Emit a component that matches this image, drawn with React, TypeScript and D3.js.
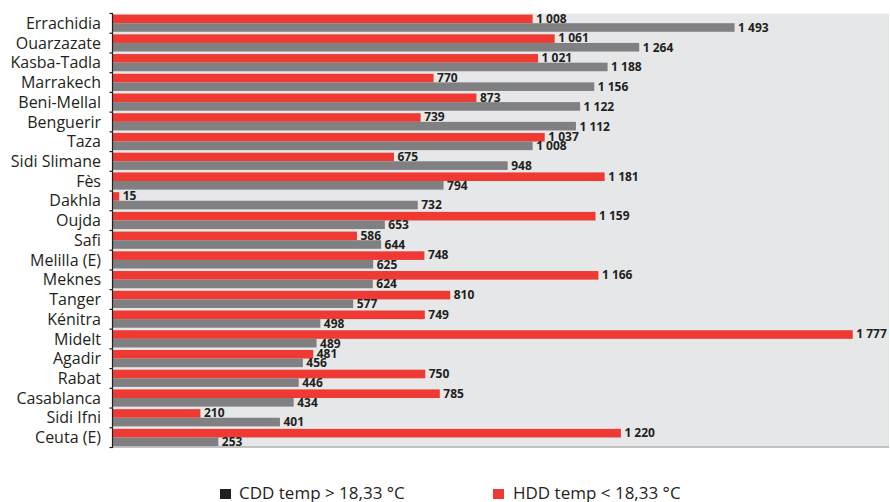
import React from "react";
import * as d3 from "d3";

const categories = [
  "Errachidia", "Ouarzazate", "Kasba-Tadla", "Marrakech", "Beni-Mellal", "Benguerir",
  "Taza", "Sidi Slimane", "Fès", "Dakhla", "Oujda", "Safi", "Melilla (E)", "Meknes",
  "Tanger", "Kénitra", "Midelt", "Agadir", "Rabat", "Casablanca", "Sidi Ifni", "Ceuta (E)",
];
const hddValues = [1008, 1061, 1021, 770, 873, 739, 1037, 675, 1181, 15, 1159, 586, 748, 1166, 810, 749, 1777, 481, 750, 785, 210, 1220];
const cddValues = [1493, 1264, 1188, 1156, 1122, 1112, 1008, 948, 794, 732, 653, 644, 625, 624, 577, 498, 489, 456, 446, 434, 401, 253];
const legendLabels = ["CDD temp > 18,33 °C", "HDD temp < 18,33 °C"];

const W = 890, H = 502;
const X0 = 113, X1 = 889, Y0 = 13.5, Y1 = 447.5;
const RED = "#ee3a33";
const GREY = "#808083";
const TEXT = "#231f20";
const FONT = "'Open Sans', 'Noto Sans', sans-serif";

const fmt = (v: number) => d3.format(",")(v).replace(/,/g, " ");

export default function App() {
  const x = d3.scaleLinear().domain([0, 1864]).range([X0, X1]);
  const y = d3.scaleBand<string>().domain(categories).range([Y0, Y1]).padding(0);
  const bw = y.bandwidth();
  const barH = 8.6;
  const off = 1.1;

  return (
    <svg width={W} height={H} style={{ position: "absolute", left: 0, top: 0, background: "#fff" }}>
      <rect x={X0} y={Y0} width={X1 - X0} height={Y1 - Y0} fill="#e6e7e8" />
      <line x1={X0} x2={X1} y1={Y1 - 0.5} y2={Y1 - 0.5} stroke="#b3b3b5" strokeWidth={1.5} />
      {categories.map((c, i) => {
        const yb = y(c)!;
        const redEnd = x(hddValues[i]);
        const greyEnd = x(cddValues[i]);
        return (
          <g key={c}>
            <rect x={X0} y={yb + off} width={redEnd - X0} height={barH} fill={RED} />
            <rect x={X0} y={yb + off + barH} width={greyEnd - X0} height={barH} fill={GREY} />
            <text x={redEnd + 3.5} y={yb + off + barH / 2 + 3.8} fontFamily={FONT} fontWeight={700} fontSize={12} fill={TEXT}>
              {fmt(hddValues[i])}
            </text>
            <text x={greyEnd + 3.5} y={yb + off + barH * 1.5 + 4.4} fontFamily={FONT} fontWeight={700} fontSize={12} fill={TEXT}>
              {fmt(cddValues[i])}
            </text>
            <text x={101} y={yb + bw / 2 + 5.5} textAnchor="end" fontFamily={FONT} fontSize={16} fill={TEXT}>
              {c}
            </text>
          </g>
        );
      })}
      <line x1={X0 - 0.5} x2={X0 - 0.5} y1={Y0} y2={Y1} stroke={TEXT} strokeWidth={1.2} />
      {d3.range(categories.length + 1).map((i) => {
        const yy = Y0 + i * bw;
        return <line key={i} x1={X0 - 3.5} x2={X0} y1={yy} y2={yy} stroke={TEXT} strokeWidth={1.2} />;
      })}
      <rect x={220} y={489} width={11} height={10} fill={TEXT} />
      <text x={239} y={498.5} fontFamily={FONT} fontSize={17} fill={TEXT}>{legendLabels[0]}</text>
      <rect x={493} y={489} width={11} height={10} fill={RED} />
      <text x={513} y={498.5} fontFamily={FONT} fontSize={17} fill={TEXT}>{legendLabels[1]}</text>
    </svg>
  );
}
